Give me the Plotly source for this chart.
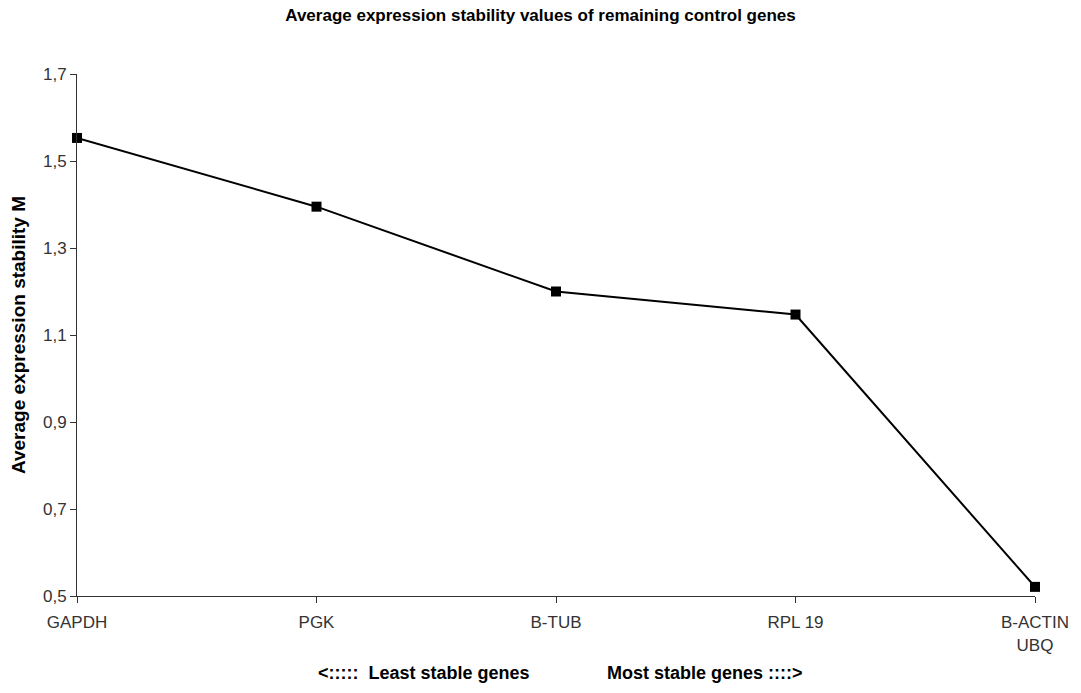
import plotly.graph_objects as go

genes = ["GAPDH", "PGK", "B-TUB", "RPL 19", "B-ACTIN<br>UBQ"]
m_values = [1.553, 1.395, 1.200, 1.147, 0.521]
y_ticks = [0.5, 0.7, 0.9, 1.1, 1.3, 1.5, 1.7]

x_pos = list(range(len(genes)))

fig = go.Figure()
fig.add_trace(go.Scatter(
    x=x_pos, y=m_values, mode="lines+markers",
    line=dict(color="black", width=2),
    marker=dict(symbol="square", size=10, color="black"),
    cliponaxis=False, showlegend=False,
))

font = "Liberation Sans, Arial, sans-serif"
fig.update_layout(
    width=1081, height=693,
    margin=dict(l=77, r=41, t=74, b=97),
    paper_bgcolor="white", plot_bgcolor="white",
    font=dict(family=font, size=17, color="#333"),
    title=dict(text="<b>Average expression stability values of remaining control genes</b>",
               x=0.5, xanchor="center", y=0.978, yanchor="middle",
               font=dict(size=17, color="black")),
    xaxis=dict(range=[0, 4], tickmode="array", tickvals=x_pos, ticktext=genes,
               showline=True, linecolor="#333", linewidth=1,
               ticks="outside", ticklen=6, tickcolor="#333",
               ticklabelstandoff=5,
               showgrid=False, zeroline=False),
    yaxis=dict(range=[0.5, 1.7], tickmode="array", tickvals=y_ticks,
               ticktext=[f"{v:.1f}".replace(".", ",") for v in y_ticks],
               showline=True, linecolor="#333", linewidth=1,
               ticks="outside", ticklen=6, tickcolor="#333",
               showgrid=False, zeroline=False,
               title=dict(text="<b>Average expression stability M</b>",
                          font=dict(size=19, color="black"), standoff=12)),
)
fig.add_annotation(
    text="<b>&lt;:::::  Least stable genes</b>", xref="paper", yref="paper",
    x=0.362, y=-0.147, xanchor="center", yanchor="middle", showarrow=False,
    font=dict(size=18, color="black"),
)
fig.add_annotation(
    text="<b>Most stable genes ::::&gt;</b>", xref="paper", yref="paper",
    x=0.656, y=-0.147, xanchor="center", yanchor="middle", showarrow=False,
    font=dict(size=18, color="black"),
)
fig.write_html("out.html")
